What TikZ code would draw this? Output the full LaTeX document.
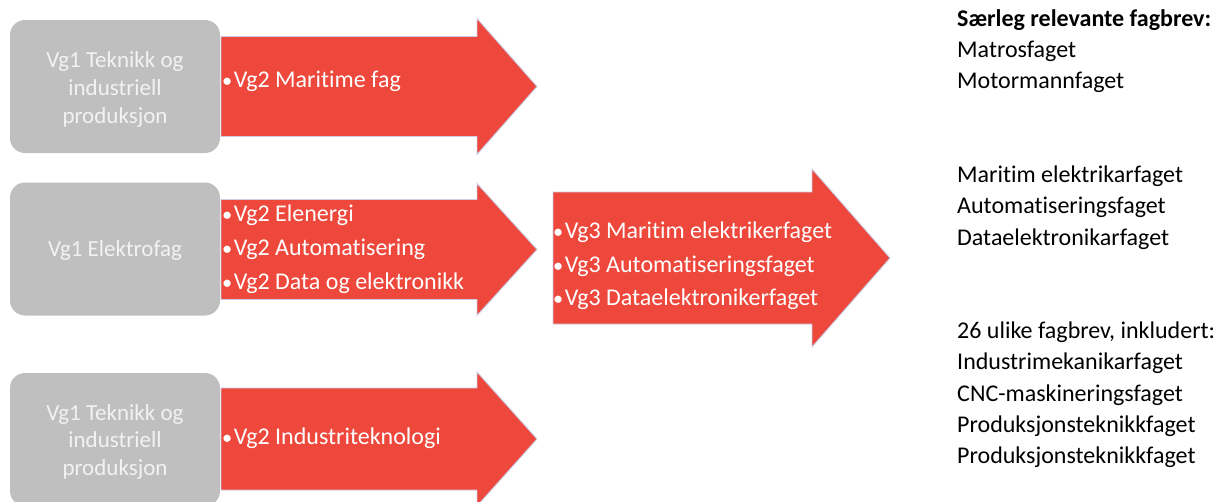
\documentclass[tikz,border=0pt]{standalone}
\usepackage{fontspec}
\setmainfont{Carlito}[Ligatures=CommonOff]
\definecolor{boxgrey}{HTML}{BFBFBF}
\definecolor{arrowred}{HTML}{EE473B}
\definecolor{rimblue}{HTML}{C9CDE6}
\definecolor{softwhite}{HTML}{F2F2F2}

% block arrow: left x, centre y, head start x, tip x, half body height, half head height
\newcommand{\blockarrow}[6]{%
  \draw[redarrow] (#1,#2-#5) -- (#3,#2-#5) -- (#3,#2-#6) -- (#4,#2)
    -- (#3,#2+#6) -- (#3,#2+#5) -- (#1,#2+#5) -- cycle;}
% bullet followed by a thin gap
\newcommand{\bul}{\scalebox{0.85}{•}\hspace{1.5pt}}

\begin{document}
\begin{tikzpicture}[x=1pt,y=-1pt,
  greybox/.style={fill=boxgrey, draw=none, rounded corners=15pt,
    minimum width=210pt, minimum height=133pt, inner sep=0pt},
  greyline/.style={text=softwhite, font=\fontsize{23}{28}\selectfont,
    anchor=base, inner sep=0pt},
  item/.style={text=white, font=\fontsize{24}{34}\selectfont,
    anchor=base west, inner sep=0pt},
  listline/.style={text=black, font=\fontsize{24}{31}\selectfont,
    anchor=base west, inner sep=0pt},
  redarrow/.style={fill=arrowred, draw=rimblue, line width=0.9pt,
    line join=miter}]

\path[use as bounding box] (0,0) rectangle (1227,501);
\clip (0,0) rectangle (1227,501);

% red block arrows
\blockarrow{221}{86.5}{477}{537}{50}{68}
\blockarrow{221}{249.5}{477}{537}{50}{66}
\blockarrow{221}{439}{477}{537}{51}{67}
\blockarrow{553}{258}{812}{890}{66}{89}

% Vg1 boxes
\node[greybox] (box1) at (115,86.5) {};
\node[greybox] (box2) at (115,249) {};
\node[greybox] (box3) at (115,439.5) {};

\node[greyline] (b1a) at (115,67)  {Vg1 Teknikk og};
\node[greyline] (b1b) at (115,95)  {industriell};
\node[greyline] (b1c) at (115,123) {produksjon};

\node[greyline] (b2a) at (115,256) {Vg1 Elektrofag};

\node[greyline] (b3a) at (115,420)   {Vg1 Teknikk og};
\node[greyline] (b3b) at (115,447.5) {industriell};
\node[greyline] (b3c) at (115,475)   {produksjon};

% Vg2 items
\node[item] (a1a) at (222,87)  {\bul Vg2 Maritime fag};
\node[item] (a2a) at (222,221) {\bul Vg2 Elenergi};
\node[item] (a2b) at (222,255) {\bul Vg2 Automatisering};
\node[item] (a2c) at (222,289) {\bul Vg2 Data og elektronikk};
\node[item] (a3a) at (222,444) {\bul Vg2 Industriteknologi};

% Vg3 items
\node[item] (c1) at (553,238) {\bul Vg3 Maritim elektrikerfaget};
\node[item] (c2) at (553,272) {\bul Vg3 Automatiseringsfaget};
\node[item] (c3) at (553,305) {\bul Vg3 Dataelektronikerfaget};

% trade certificates
\node[listline, font=\fontsize{24}{31}\selectfont\bfseries] (r1) at (957,26) {Særleg relevante fagbrev:};
\node[listline] (r2)  at (957,57)  {Matrosfaget};
\node[listline] (r3)  at (957,88)  {Motormannfaget};
\node[listline] (r4)  at (957,182) {Maritim elektrikarfaget};
\node[listline] (r5)  at (957,213) {Automatiseringsfaget};
\node[listline] (r6)  at (957,245) {Dataelektronikarfaget};
\node[listline] (r7)  at (957,338) {26 ulike fagbrev, inkludert:};
\node[listline] (r8)  at (957,369) {Industrimekanikarfaget};
\node[listline] (r9)  at (957,401) {CNC-maskineringsfaget};
\node[listline] (r10) at (957,432) {Produksjonsteknikkfaget};
\node[listline] (r11) at (957,463) {Produksjonsteknikkfaget};
\end{tikzpicture}
\end{document}
